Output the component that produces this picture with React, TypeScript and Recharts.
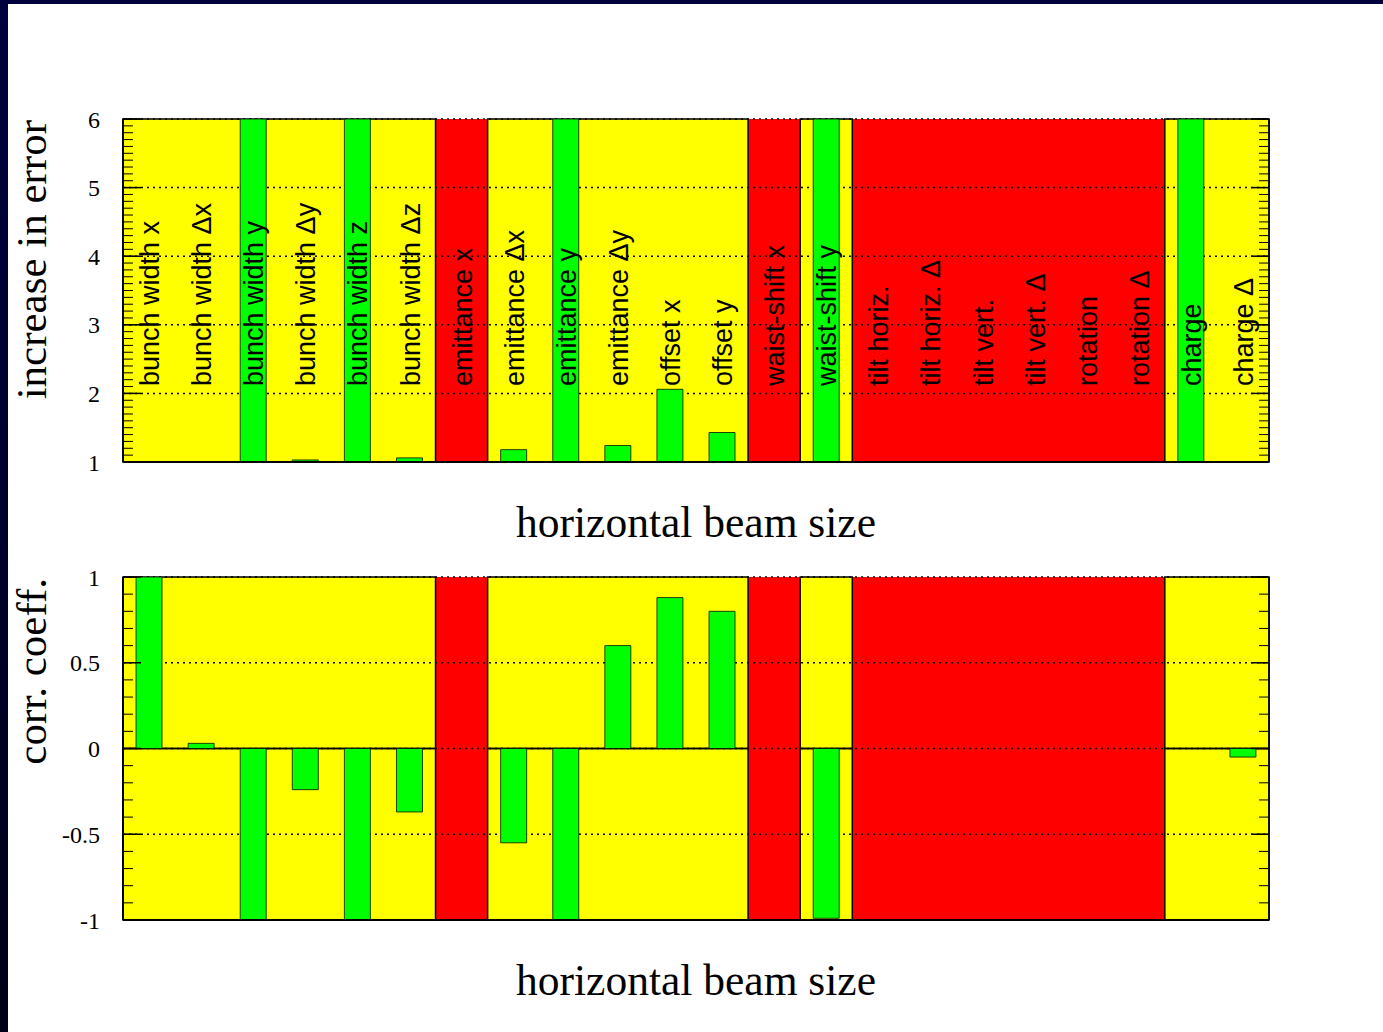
import React from 'react';
import { BarChart, Bar, XAxis, YAxis, ReferenceArea, CartesianGrid } from 'recharts';

// categories along the horizontal axis
const categories = [
  'bunch width x', 'bunch width Δx', 'bunch width y', 'bunch width Δy',
  'bunch width z', 'bunch width Δz', 'emittance x', 'emittance Δx',
  'emittance y', 'emittance Δy', 'offset x', 'offset y',
  'waist-shift x', 'waist-shift y', 'tilt horiz.', 'tilt horiz. Δ',
  'tilt vert.', 'tilt vert. Δ', 'rotation', 'rotation Δ', 'charge', 'charge Δ',
];

// top panel: increase in error (6 = off the scale)
const errorIncrease = [
  1, 1, 6, 1.03, 6, 1.06, null, 1.18, 6, 1.24, 2.06, 1.43,
  null, 6, null, null, null, null, null, null, 6, 1,
];

// bottom panel: correlation coefficient
const corrCoeff = [
  1, 0.03, -1, -0.24, -1, -0.37, null, -0.55, -1, 0.6, 0.88, 0.8,
  null, -0.99, null, null, null, null, null, null, 0, -0.05,
];

// categories that cannot be determined (red)
const blocked = [
  'emittance x', 'waist-shift x', 'tilt horiz.', 'tilt horiz. Δ',
  'tilt vert.', 'tilt vert. Δ', 'rotation', 'rotation Δ',
];

const errorTicks = [1, 2, 3, 4, 5, 6];
const corrTicks = [-1, -0.5, 0, 0.5, 1];

const minorTicks = (lo: number, hi: number) => {
  const out: number[] = [];
  for (let v = Math.round(lo * 10); v <= Math.round(hi * 10); v++) out.push(v / 10);
  return out;
};

const YELLOW = '#ffff00';
const RED = '#ff0000';
const GREEN = '#00ff00';
const SERIF = '"Liberation Serif", "Times New Roman", serif';
const SANS = '"Liberation Sans", Arial, sans-serif';

const stripeColors = categories.map((c) => (blocked.includes(c) ? RED : YELLOW));

// runs of neighbouring categories that are not blocked (outlined in black)
const openRuns = () => {
  const runs: [string, string][] = [];
  categories.forEach((c, i) => {
    if (blocked.includes(c)) return;
    const prev = categories[i - 1];
    if (runs.length && prev && !blocked.includes(prev)) runs[runs.length - 1][1] = c;
    else runs.push([c, c]);
  });
  return runs;
};

// band edges of the category axis, from the axis scale
const bandEdges = (args: any) => {
  const { xAxis, offset } = args;
  const sc = xAxis && xAxis.scale;
  if (sc && typeof sc === 'function') {
    return categories.map((c) => Math.round(sc(c)));
  }
  const step = offset.width / categories.length;
  return categories.map((_, i) => Math.round(offset.left + i * step));
};

const noTick = () => <g />;

const CategoryTick = (props: any) => {
  const { x, y, payload } = props;
  const tx = x + 10;
  const ty = y - 76;
  return (
    <text x={tx} y={ty} transform={`rotate(-90, ${tx}, ${ty})`} textAnchor="start"
      fontFamily={SANS} fontSize={27} fill="#000">
      {payload.value}
    </text>
  );
};

const xLabel = (props: any) => {
  const vb = props.viewBox;
  return (
    <text x={vb.x + vb.width / 2} y={vb.y + 75} textAnchor="middle" fontFamily={SERIF}
      fontSize={43.5} fill="#000">
      horizontal beam size
    </text>
  );
};

const yLabel = (text: string) => (props: any) => {
  const vb = props.viewBox;
  const tx = vb.x - 17;
  const ty = vb.y + 1;
  return (
    <text x={tx} y={ty} transform={`rotate(-90, ${tx}, ${ty})`} textAnchor="end"
      fontFamily={SERIF} fontSize={43} fill="#000">
      {text}
    </text>
  );
};

interface PanelProps {
  values: (number | null)[];
  domain: [number, number];
  ticks: number[];
  yTitle: string;
  showNames: boolean;
  height: number;
  margin: { top: number; right: number; bottom: number; left: number };
}

const Panel: React.FC<PanelProps> = ({ values, domain, ticks, yTitle, showNames, height, margin }) => {
  const data = categories.map((name, i) => ({ name, value: values[i] }));
  const minors = minorTicks(domain[0], domain[1]);
  const hasZero = domain[0] < 0 && domain[1] > 0;
  const bands: [number, number][] = hasZero ? [[domain[0], 0], [0, domain[1]]] : [[domain[0], domain[1]]];
  return (
    <BarChart width={1383} height={height} data={data} margin={margin} barCategoryGap="25%">
      <CartesianGrid yAxisId="main" horizontal={false} vertical stroke="none"
        verticalCoordinatesGenerator={bandEdges} verticalFill={stripeColors} fillOpacity={1} />
      <CartesianGrid yAxisId="main" horizontal vertical={false} stroke="#000" strokeWidth={1.5}
        strokeDasharray="2 4" />
      <XAxis dataKey="name" height={60} interval={0} tickLine={false} tickSize={0} tickMargin={0}
        axisLine={{ stroke: '#000', strokeWidth: 2 }}
        tick={showNames ? <CategoryTick /> : false}
        label={{ content: xLabel }} />
      <YAxis yAxisId="main" type="number" domain={domain} ticks={ticks} allowDataOverflow
        interval={0} width={60} tickLine={false} tickSize={0} tickMargin={23}
        axisLine={{ stroke: '#000', strokeWidth: 2 }}
        tick={{ fontFamily: SERIF, fontSize: 24, fill: '#000' }}
        label={{ content: yLabel(yTitle) }} />
      <YAxis yAxisId="majL" mirror orientation="left" width={1} type="number" domain={domain}
        ticks={ticks} interval={0} allowDataOverflow tick={noTick} tickSize={18} axisLine={false}
        tickLine={{ stroke: '#000', strokeWidth: 1.5 }} />
      <YAxis yAxisId="minL" mirror orientation="left" width={1} type="number" domain={domain}
        ticks={minors} interval={0} allowDataOverflow tick={noTick} tickSize={9} axisLine={false}
        tickLine={{ stroke: '#000', strokeWidth: 1 }} />
      <YAxis yAxisId="majR" mirror orientation="right" width={1} type="number" domain={domain}
        ticks={ticks} interval={0} allowDataOverflow tick={noTick} tickSize={18}
        axisLine={{ stroke: '#000', strokeWidth: 1.5 }}
        tickLine={{ stroke: '#000', strokeWidth: 1.5 }} />
      <YAxis yAxisId="minR" mirror orientation="right" width={1} type="number" domain={domain}
        ticks={minors} interval={0} allowDataOverflow tick={noTick} tickSize={9} axisLine={false}
        tickLine={{ stroke: '#000', strokeWidth: 1 }} />

      <Bar yAxisId="main" dataKey="value" fill={GREEN} stroke="#000" strokeOpacity={0.75}
        strokeWidth={1} isAnimationActive={false} />

      {openRuns().map(([a, b]) =>
        bands.map(([lo, hi]) => (
          <ReferenceArea key={`${a}-${lo}`} yAxisId="main" x1={a} x2={b} y1={lo} y2={hi}
            fill="none" fillOpacity={0} stroke="#000" strokeWidth={1.5} ifOverflow="visible" />
        ))
      )}
    </BarChart>
  );
};

export default function App() {
  return (
    <div style={{ position: 'absolute', left: 0, top: 0, width: 1383, height: 1032, background: '#fff', overflow: 'hidden' }}>
      <div style={{ position: 'absolute', left: 0, top: 0, width: 1383, height: 4, background: '#00003c' }} />
      <div style={{ position: 'absolute', left: 0, top: 0, width: 8, height: 1032, background: 'linear-gradient(#000040, #00001a)' }} />
      <div style={{ position: 'absolute', left: 0, top: 0 }}>
        <Panel values={errorIncrease} domain={[1, 6]} ticks={errorTicks}
          yTitle="increase in error" showNames height={560}
          margin={{ top: 119, right: 114, bottom: 38, left: 63 }} />
      </div>
      <div style={{ position: 'absolute', left: 0, top: 460 }}>
        <Panel values={corrCoeff} domain={[-1, 1]} ticks={corrTicks}
          yTitle="corr. coeff." showNames={false} height={572}
          margin={{ top: 117, right: 114, bottom: 52, left: 63 }} />
      </div>
    </div>
  );
}
